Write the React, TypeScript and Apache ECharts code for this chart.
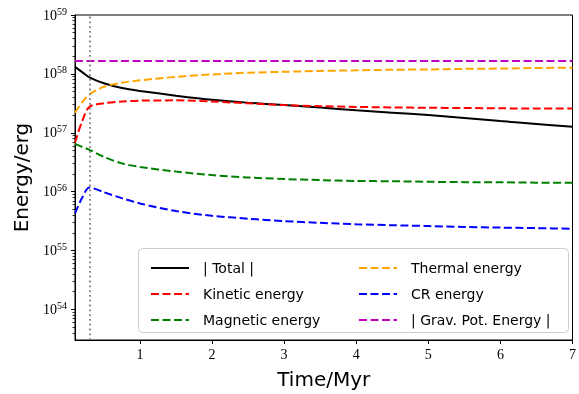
import React, { useEffect, useRef } from "react";
import * as echarts from "echarts";

// Time in Myr
const times = [0.1, 0.2, 0.3, 0.5, 0.75, 1, 1.5, 2, 2.5, 3, 3.5, 4, 4.5, 5, 5.5, 6, 6.5, 7];

// Energies in erg
const totalEnergy = [1.32e58, 1.07e58, 8.71e57, 6.92e57, 5.75e57, 5.13e57, 4.27e57, 3.63e57, 3.24e57, 2.95e57, 2.69e57, 2.4e57, 2.19e57, 2.0e57, 1.78e57, 1.58e57, 1.41e57, 1.26e57];
const kineticEnergy = [6.76e56, 1.58e57, 2.75e57, 3.16e57, 3.39e57, 3.51e57, 3.55e57, 3.39e57, 3.16e57, 2.95e57, 2.82e57, 2.75e57, 2.69e57, 2.66e57, 2.63e57, 2.6e57, 2.57e57, 2.57e57];
const magneticEnergy = [6.46e56, 5.75e56, 5.13e56, 3.89e56, 3.02e56, 2.63e56, 2.19e56, 1.91e56, 1.74e56, 1.64e56, 1.57e56, 1.52e56, 1.5e56, 1.47e56, 1.45e56, 1.44e56, 1.42e56, 1.41e56];
const thermalEnergy = [2.19e57, 3.31e57, 4.47e57, 6.03e57, 7.08e57, 7.76e57, 8.91e57, 9.77e57, 1.047e58, 1.084e58, 1.122e58, 1.148e58, 1.175e58, 1.189e58, 1.216e58, 1.23e58, 1.259e58, 1.274e58];
const crEnergy = [4.27e55, 7.94e55, 1.175e56, 9.77e55, 7.76e55, 6.31e55, 4.68e55, 3.89e55, 3.47e55, 3.16e55, 2.95e55, 2.79e55, 2.69e55, 2.6e55, 2.51e55, 2.45e55, 2.4e55, 2.34e55];
const gravEnergy = [1.66e58, 1.66e58, 1.66e58, 1.66e58, 1.66e58, 1.66e58, 1.66e58, 1.66e58, 1.66e58, 1.66e58, 1.66e58, 1.66e58, 1.66e58, 1.66e58, 1.66e58, 1.66e58, 1.66e58, 1.66e58];

const seriesNames = ["| Total |", "Kinetic energy", "Magnetic energy", "Thermal energy", "CR energy", "| Grav. Pot. Energy |"];
const markerTime = 0.3;

// axis ticks
const xTicks = [1, 2, 3, 4, 5, 6, 7];
const yDecades = [54, 55, 56, 57, 58, 59];
const yMinLog = 53.48;
const yMaxLog = 59;

const SANS = "DejaVu Sans";
const SERIF = "Liberation Serif";

export default function App() {
  const ref = useRef<HTMLDivElement>(null);
  useEffect(() => {
    if (!ref.current) return;
    const chart = echarts.init(ref.current, undefined, { renderer: "svg" });

    const minorTicks: number[] = [];
    for (let n = 53; n < 59; n++) {
      for (let k = 2; k <= 9; k++) {
        const v = n + Math.log10(k);
        if (v > yMinLog && v < yMaxLog) minorTicks.push(v);
      }
    }

    const toData = (arr: number[]) => times.map((t, i) => [t, Math.log10(arr[i])]);
    const dash = [8, 3.5];
    const mk = (name: string, arr: number[], color: string, dashed: boolean, extra: any = {}) => ({
      name,
      type: "line",
      data: toData(arr),
      showSymbol: false,
      symbol: "none",
      smooth: 0.3,
      color,
      lineStyle: { color, width: 2, type: dashed ? dash : "solid" },
      z: 3,
      ...extra,
    });

    const legendCommon = {
      orient: "vertical",
      itemWidth: 38,
      itemHeight: 14,
      itemGap: 12,
      itemStyle: { opacity: 0 },
      textStyle: { fontFamily: SANS, fontSize: 14, color: "#000", padding: [0, 0, 0, 9] },
      z: 5,
    };

    chart.setOption({
      animation: false,
      grid: { left: 75, right: 1, top: 15, bottom: 52, show: true, borderColor: "#000", borderWidth: 1, backgroundColor: "transparent" },
      xAxis: {
        type: "value",
        min: 0.1,
        max: 7,
        name: "Time/Myr",
        nameLocation: "middle",
        nameGap: 29,
        nameTextStyle: { fontFamily: SANS, fontSize: 20, color: "#000" },
        axisLine: { show: true, lineStyle: { color: "#000", width: 1 } },
        axisTick: { show: true, inside: false, length: 4, lineStyle: { color: "#000", width: 1 }, customValues: xTicks },
        axisLabel: { fontFamily: SERIF, fontSize: 14, color: "#000", margin: 7, customValues: xTicks },
        splitLine: { show: false },
      },
      yAxis: [
        {
          type: "value",
          min: yMinLog,
          max: yMaxLog,
          name: "Energy/erg",
          nameLocation: "middle",
          nameGap: 44,
          nameTextStyle: { fontFamily: SANS, fontSize: 20, color: "#000" },
          axisLine: { show: true, lineStyle: { color: "#000", width: 1 } },
          axisTick: { show: true, length: 4, lineStyle: { color: "#000", width: 1 }, customValues: yDecades },
          axisLabel: {
            customValues: yDecades,
            margin: 8,
            formatter: (v: number) => `{b|10}{s|${Math.round(v)}}`,
            rich: {
              b: { fontFamily: SERIF, fontSize: 14, color: "#000" },
              s: { fontFamily: SERIF, fontSize: 10, color: "#000", padding: [0, 0, 8, 0] },
            },
          },
          splitLine: { show: false },
        },
        {
          type: "value",
          min: yMinLog,
          max: yMaxLog,
          position: "left",
          axisLine: { show: false },
          axisTick: { show: true, length: 2.5, lineStyle: { color: "#000", width: 0.8 }, customValues: minorTicks },
          axisLabel: { show: false },
          splitLine: { show: false },
        },
      ],
      legend: [
        { ...legendCommon, left: 145, top: 256, data: [seriesNames[0], seriesNames[1], seriesNames[2]] },
        { ...legendCommon, left: 353, top: 256, data: [seriesNames[3], seriesNames[4], seriesNames[5]] },
      ],
      graphic: [
        {
          type: "rect",
          left: 138,
          top: 248,
          shape: { width: 430, height: 84, r: 4 },
          style: { fill: "rgba(255,255,255,0.85)", stroke: "#cccccc", lineWidth: 1 },
          z: 4,
        },
      ],
      series: [
        mk(seriesNames[0], totalEnergy, "#000000", false, {
          markLine: {
            silent: true,
            symbol: "none",
            label: { show: false },
            lineStyle: { color: "#808080", width: 1.8, type: [1.8, 3] },
            data: [{ xAxis: markerTime }],
          },
        }),
        mk(seriesNames[1], kineticEnergy, "#ff0000", true),
        mk(seriesNames[2], magneticEnergy, "#008000", true),
        mk(seriesNames[3], thermalEnergy, "#ffa500", true),
        mk(seriesNames[4], crEnergy, "#0000ff", true),
        mk(seriesNames[5], gravEnergy, "#bf00bf", true),
      ],
    });
    return () => chart.dispose();
  }, []);
  return <div ref={ref} style={{ position: "fixed", left: 0, top: 0, width: 579, height: 394 }} />;
}
